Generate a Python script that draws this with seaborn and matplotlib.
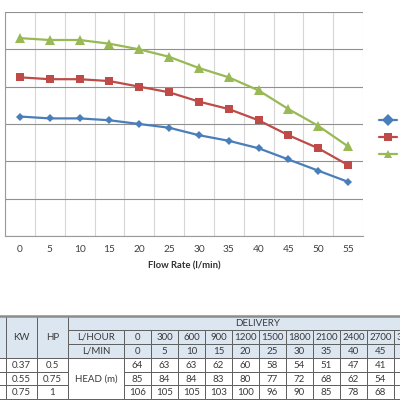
import numpy as np
import pandas as pd
import matplotlib
matplotlib.use("Agg")
import matplotlib.pyplot as plt
from matplotlib.patches import Rectangle
import seaborn as sns

# ---------------- data ----------------
flow = [0, 5, 10, 15, 20, 25, 30, 35, 40, 45, 50, 55]
lph = [0, 300, 600, 900, 1200, 1500, 1800, 2100, 2400, 2700, 3000, 3300]
kw = ["0.37", "0.55", "0.75"]
hp = ["0.5", "0.75", "1"]
series_names = ["0.37 KW", "0.55 KW", "0.75 KW"]
head_037 = [64, 63, 63, 62, 60, 58, 54, 51, 47, 41, 35, 29]
head_055 = [85, 84, 84, 83, 80, 77, 72, 68, 62, 54, 47, 38]
head_075 = [106, 105, 105, 103, 100, 96, 90, 85, 78, 68, 59, 48]
heads = [head_037, head_055, head_075]
x_label = "Flow Rate (l/min)"

colors = ["#4A7EBB", "#BE4B48", "#98B954"]
markers = ["D", "s", "^"]
msizes = [4.5, 6.0, 6.5]

sns.set_theme(style="white")
plt.rcParams["font.family"] = ["Lato", "DejaVu Sans"]

df = pd.DataFrame({
    "flow": flow * 3,
    "head": head_037 + head_055 + head_075,
    "motor": sum([[n] * len(flow) for n in series_names], []),
})

fig = plt.figure(figsize=(4, 4), dpi=100)
fig.patch.set_facecolor("white")

# ---------------- chart ----------------
ax = fig.add_axes([5 / 400, 1 - 236 / 400, (363 - 5) / 400, (236 - 12) / 400])
sns.lineplot(data=df, x="flow", y="head", hue="motor", style="motor",
             markers=markers, dashes=False, palette=colors, linewidth=1.6,
             markeredgewidth=0, ax=ax, legend=True)
for ln, ms in zip(ax.lines[:3], msizes):
    ln.set_markersize(ms)
    ln.set_zorder(3)

ax.set_xlim(-2.5, 57.5)
ax.set_ylim(0, 120)
ax.set_yticks(np.arange(0, 121, 20))
ax.set_yticklabels([])
ax.set_xticks(flow)
ax.set_xticks(np.arange(-2.5, 58, 5), minor=True)
ax.yaxis.grid(True, color="#909090", linewidth=0.8)
ax.xaxis.grid(True, which="minor", color="#d6d6d6", linewidth=0.8)
ax.xaxis.grid(False, which="major")
ax.set_axisbelow(True)
for s in ["top", "right"]:
    ax.spines[s].set_visible(False)
for s in ["left", "bottom"]:
    ax.spines[s].set_color("#9a9a9a")
    ax.spines[s].set_linewidth(0.8)
ax.tick_params(axis="x", which="major", length=0, pad=6.5, labelsize=7.3, labelcolor="#404040")
ax.tick_params(axis="x", which="minor", length=3, width=0.8, color="#9a9a9a", direction="out")
ax.tick_params(axis="y", length=3, width=0.8, color="#9a9a9a")
ax.set_xlabel(x_label, fontsize=6.8, fontweight="bold", color="#303030", labelpad=5)
ax.set_ylabel("")

handles, labels = ax.get_legend_handles_labels()
ax.get_legend().remove()
fig.legend(handles[:3], labels[:3], loc="upper left",
           bbox_to_anchor=(379 / 400, 1 - 116 / 400), frameon=False,
           fontsize=7.5, borderaxespad=0, borderpad=0, labelspacing=0.75,
           handlelength=1.75, handletextpad=0.8)

# ---------------- table ----------------
tx = fig.add_axes([0, 0, 1, 1], zorder=-1)
tx.set_xlim(0, 400)
tx.set_ylim(400, 0)
tx.axis("off")

blue = "#DCE6F1"
edge = "#5f5f5f"
tcol = "#3a3a3a"
fs = 7.0
rows_y = [316, 330, 344, 358, 372, 385, 399]
x_model, x_kw, x_hp, x_lab, x_val0 = -40, 6, 37, 68, 124
cw = 27
val_edges = [x_val0 + cw * i for i in range(len(flow) + 1)]


def cell(x0, x1, y0, y1, fc, text=None):
    tx.add_patch(Rectangle((x0, y0), x1 - x0, y1 - y0, facecolor=fc,
                           edgecolor=edge, linewidth=0.7))
    if text:
        tx.text((x0 + x1) / 2, (y0 + y1) / 2 + 0.5, text, ha="center", va="center",
                fontsize=fs, color=tcol)


# header block
cell(x_model, x_kw, rows_y[0], rows_y[3], blue)
cell(x_kw, x_hp, rows_y[0], rows_y[3], blue, "KW")
cell(x_hp, x_lab, rows_y[0], rows_y[3], blue, "HP")
cell(x_lab, val_edges[-1], rows_y[0], rows_y[1], blue, "DELIVERY")
cell(x_lab, x_val0, rows_y[1], rows_y[2], blue, "L/HOUR")
cell(x_lab, x_val0, rows_y[2], rows_y[3], blue, "L/MIN")
for i, (a, b) in enumerate(zip(lph, flow)):
    cell(val_edges[i], val_edges[i + 1], rows_y[1], rows_y[2], blue, str(a))
    cell(val_edges[i], val_edges[i + 1], rows_y[2], rows_y[3], blue, str(b))

# data rows
cell(x_lab, x_val0, rows_y[3], rows_y[6], "white", "HEAD (m)")
for r in range(3):
    y0, y1 = rows_y[3 + r], rows_y[4 + r]
    cell(x_model, x_kw, y0, y1, "white")
    cell(x_kw, x_hp, y0, y1, "white", kw[r])
    cell(x_hp, x_lab, y0, y1, "white", hp[r])
    for i, v in enumerate(heads[r]):
        cell(val_edges[i], val_edges[i + 1], y0, y1, "white", str(v))

# top border of table
tx.plot([-40, 460], [rows_y[0], rows_y[0]], color="#8c8c8c", linewidth=1.8,
        solid_capstyle="butt")

fig.savefig("out.png", dpi=100, facecolor="white")
